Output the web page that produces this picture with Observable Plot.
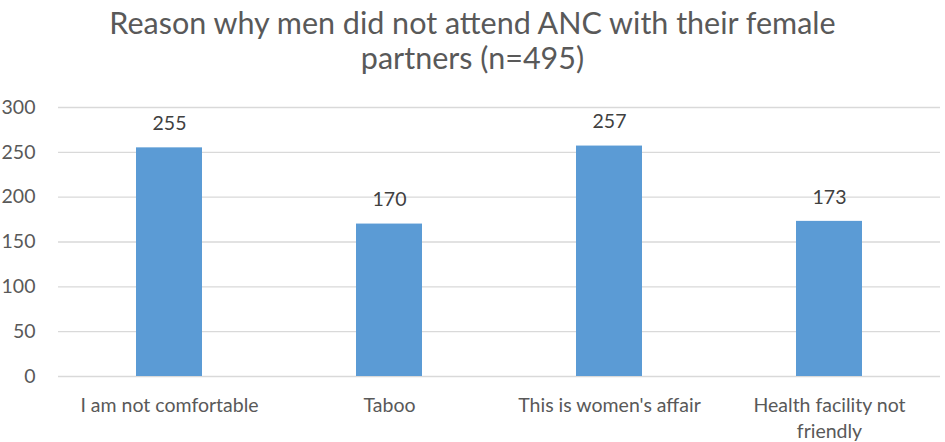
<!DOCTYPE html>
<html>
<head>
<meta charset="utf-8">
<script src="https://cdn.jsdelivr.net/npm/d3@7"></script>
<script src="https://cdn.jsdelivr.net/npm/@observablehq/plot@0.6"></script>
<style>
  html, body { margin: 0; padding: 0; background: #fff; }
  #title { width: 945px; height: 90px; box-sizing: border-box; padding-top: 5px;
    font-family: Lato, "Open Sans", sans-serif; font-size: 30.5px; line-height: 35px;
    color: #595959; text-align: center; }
  svg { display: block; }
</style>
</head>
<body>
<div id="title">Reason why men did not attend ANC with their female<br>partners (n=495)</div>
<div id="chart"></div>
<script>
const categories = ["I am not comfortable", "Taboo", "This is women's affair", "Health facility not friendly"];
const tickLabels = ["I am not comfortable", "Taboo", "This is women's affair", "Health facility not\nfriendly"];
const counts = [255, 170, 257, 173];
const yTicks = [0, 50, 100, 150, 200, 250, 300];

const data = categories.map((c, i) => ({category: c, count: counts[i]}));
const labelOf = new Map(categories.map((c, i) => [c, tickLabels[i]]));

const chart = Plot.plot({
  width: 945,
  height: 352,
  marginTop: 17,
  marginBottom: 66,
  marginLeft: 58,
  marginRight: 5,
  style: {fontFamily: "Lato, 'Open Sans', sans-serif", fontSize: "19.5px", color: "#595959", background: "#fff"},
  x: {domain: categories, paddingInner: 0.7, paddingOuter: 0.35, label: null},
  y: {domain: [0, 300], label: null},
  marks: [
    Plot.ruleY(yTicks, {stroke: "#d9d9d9", strokeWidth: 1.3}),
    Plot.barY(data, {x: "category", y: "count", fill: "#5b9bd5"}),
    Plot.text(data, {x: "category", y: "count", text: d => String(d.count), dy: -24, fill: "#404040", fontSize: 19.5}),
    Plot.axisX({tickSize: 0, tickPadding: 17, tickFormat: d => labelOf.get(d), lineHeight: 1.33, fill: "#595959", fontSize: 19.5}),
    Plot.axisY({ticks: yTicks, tickSize: 0, tickPadding: 23, fill: "#595959", fontSize: 19.5})
  ]
});
document.getElementById("chart").appendChild(chart);
</script>
</body>
</html>
